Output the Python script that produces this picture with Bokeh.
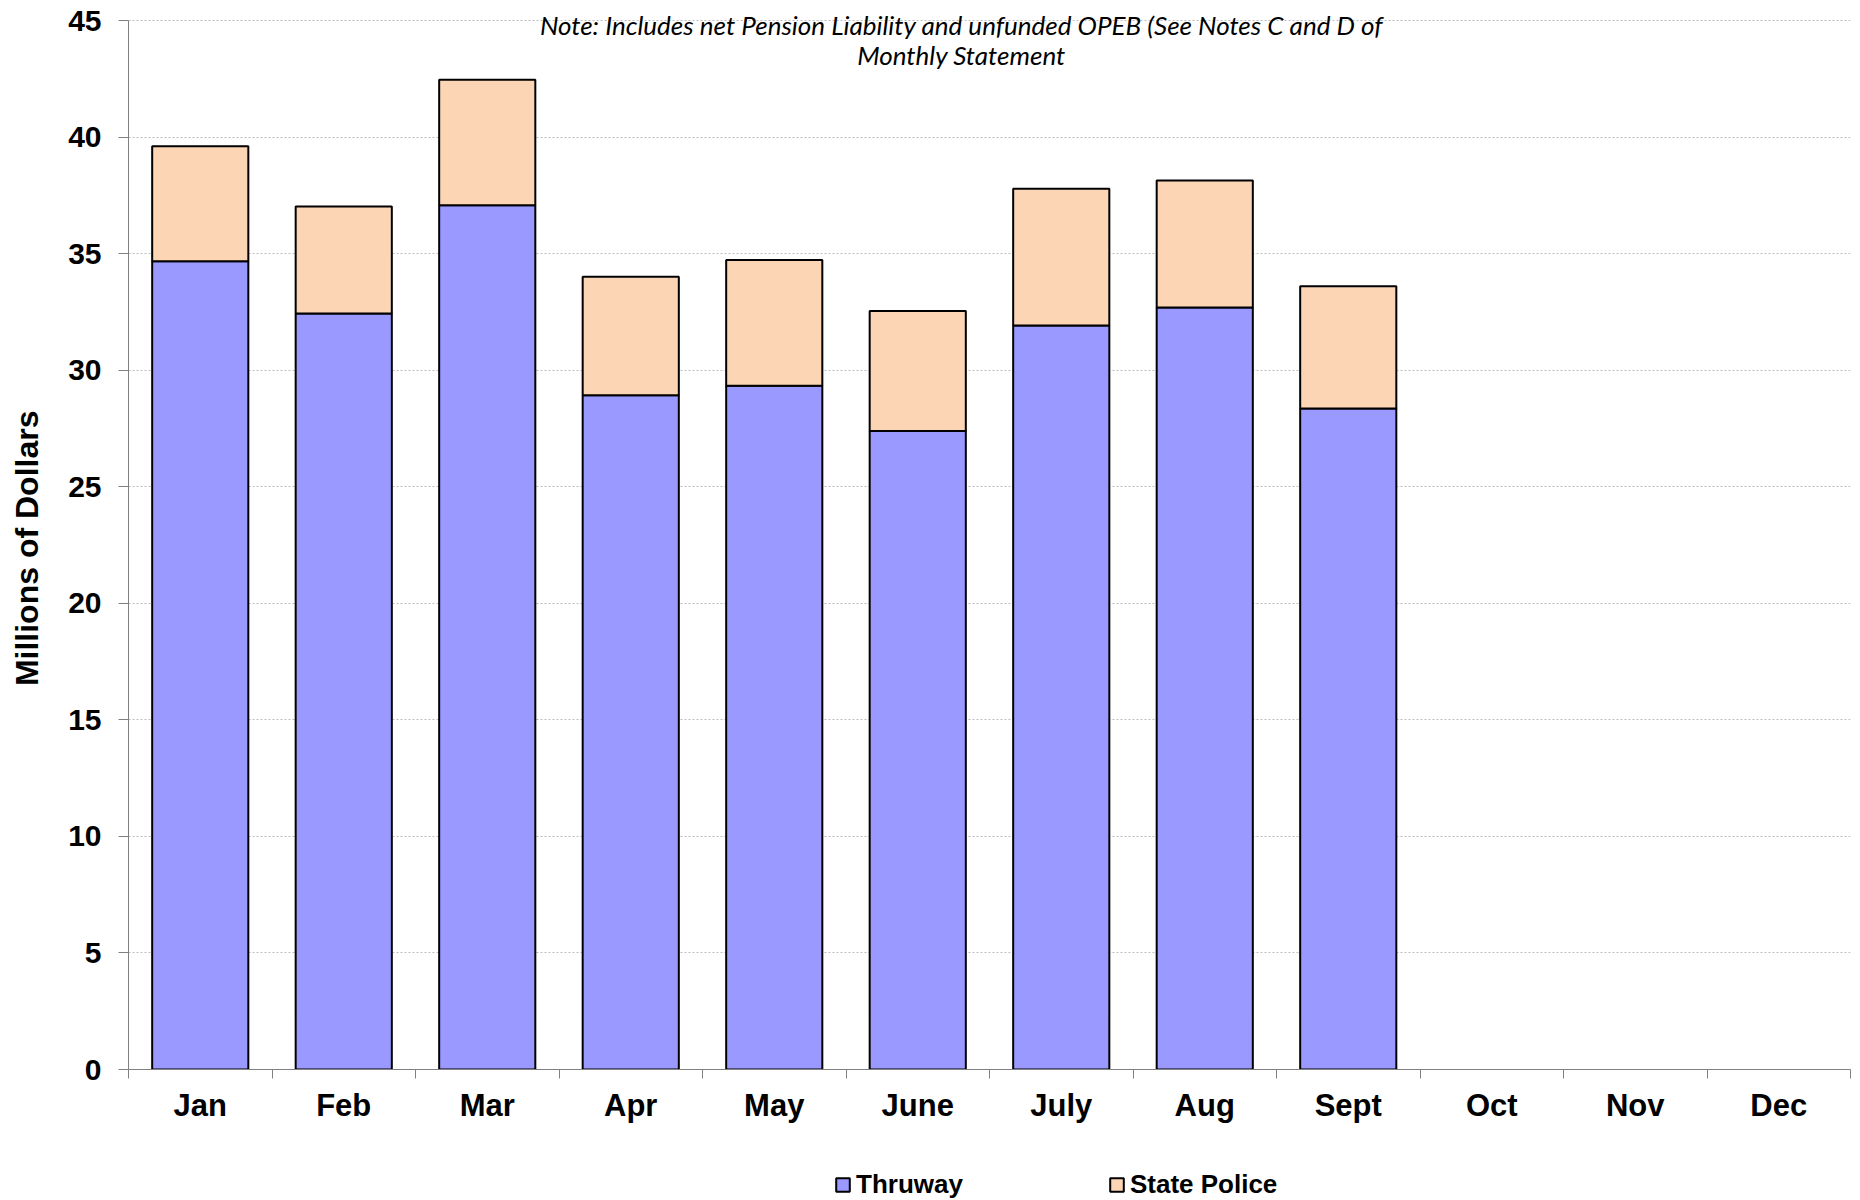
from bokeh.plotting import figure
from bokeh.layouts import column
from bokeh.models import ColumnDataSource, Range1d, FixedTicker, Label, Legend, LegendItem
from bokeh.embed import file_html
from bokeh.resources import INLINE

months = ["Jan", "Feb", "Mar", "Apr", "May", "June", "July", "Aug", "Sept", "Oct", "Nov", "Dec"]
thruway = [34.67, 32.43, 37.07, 28.92, 29.33, 27.39, 31.92, 32.69, 28.36]
state_police = [4.94, 4.59, 5.39, 5.09, 5.40, 5.15, 5.86, 5.45, 5.24]
series_names = ["Thruway", "State Police"]
y_ticks = list(range(0, 50, 5))
y_title = "Millions of Dollars"
note_lines = ["Note: Includes net Pension Liability and unfunded OPEB (See Notes C and D of",
              "Monthly Statement"]

colors = ["#9999FF", "#FCD5B5"]
FONT = "Liberation Sans"

W = 1860
H_MAIN, H_LEG = 1140, 60
BL, BR = 128, 10
X_AXIS_Y = 1069          # screen row of the zero line
TOP_GAP = 20             # screen gap between the 45 line and the top
BB = H_MAIN - X_AXIS_Y
Y_MAX = max(y_ticks)
y_end = Y_MAX * X_AXIS_Y / (X_AXIS_Y - TOP_GAP)   # leave room above the top grid line

n = len(thruway)
centers = [i + 0.5 for i in range(len(months))]
source = ColumnDataSource(dict(x=centers[:n], thruway=thruway, police=state_police))

p = figure(width=W, height=H_MAIN, output_backend="svg", toolbar_location=None,
           x_range=Range1d(0, len(months)), y_range=Range1d(0, y_end),
           min_border_left=BL, min_border_right=BR, min_border_top=0, min_border_bottom=BB)
p.outline_line_color = None
p.background_fill_color = "white"

p.vbar_stack(["thruway", "police"], x="x", width=0.67, source=source,
             fill_color=colors, line_color="black", line_width=2)

# grid
p.xgrid.grid_line_color = None
p.ygrid.grid_line_color = "#BDBDBD"
p.ygrid.grid_line_dash = "2 2"
p.ygrid.grid_line_width = 1

# y axis
ya = p.yaxis[0]
ya.ticker = FixedTicker(ticks=y_ticks)
ya.bounds = (0, Y_MAX)
ya.axis_line_color = "#808080"
ya.major_tick_line_color = "#808080"
ya.major_tick_out = 10
ya.major_tick_in = 0
ya.minor_tick_line_color = None
ya.major_label_standoff = 17
ya.major_label_text_font = FONT
ya.major_label_text_font_style = "bold"
ya.major_label_text_font_size = "30px"
ya.major_label_text_color = "black"
# trailing no-break spaces keep the title centred on the 0-45 span of the axis
ya.axis_label = y_title + "\u00a0\u00a0\u00a0"
ya.axis_label_text_font = FONT
ya.axis_label_text_font_style = "bold"
ya.axis_label_text_font_size = "32px"
ya.axis_label_text_color = "black"
ya.axis_label_standoff = 20

# x axis: labels at centres, ticks at boundaries
xa = p.xaxis[0]
xa.ticker = FixedTicker(ticks=centers, minor_ticks=list(range(len(months) + 1)))
xa.major_label_overrides = {c: m for c, m in zip(centers, months)}
xa.axis_line_color = "#808080"
xa.major_tick_line_color = None
xa.major_tick_out = 0
xa.major_tick_in = 0
xa.minor_tick_line_color = "#808080"
xa.minor_tick_out = 9
xa.minor_tick_in = 0
xa.major_label_standoff = 9
xa.major_label_text_font = FONT
xa.major_label_text_font_style = "bold"
xa.major_label_text_font_size = "31px"
xa.major_label_text_color = "black"

# note
for i, t in enumerate(note_lines):
    p.add_layout(Label(x=833, y=X_AXIS_Y - 24 - 30 * i, x_units="screen", y_units="screen",
                       text=t, text_font="Lato", text_font_style="italic",
                       text_font_size="26px", text_align="center", text_baseline="middle",
                       text_color="black"))

# legend strip below the chart (its own copies of the bars are hidden)
pl = figure(width=W, height=H_LEG, output_backend="svg", toolbar_location=None,
            x_range=Range1d(1000, 1001), y_range=Range1d(1000, 1001),
            x_axis_type=None, y_axis_type=None, min_border=0)
pl.outline_line_color = None
pl.xgrid.visible = False
pl.ygrid.visible = False
lrs = pl.vbar_stack(["thruway", "police"], x="x", width=0.67, source=source,
                    fill_color=colors, line_color="black", line_width=2)
for r in lrs:
    r.visible = False
items = [LegendItem(label=name, renderers=[r]) for name, r in zip(series_names, lrs)]
lg = Legend(items=items, orientation="horizontal", location=(834 - BL, 0))
lg.padding = 0
lg.margin = 0
lg.spacing = 145
lg.glyph_width = 17
lg.glyph_height = 17
lg.label_standoff = 5
lg.label_text_font = FONT
lg.label_text_font_style = "bold"
lg.label_text_font_size = "26px"
lg.label_text_color = "black"
lg.border_line_color = None
lg.background_fill_alpha = 0
lg.inactive_fill_alpha = 0
pl.add_layout(lg, "center")

layout = column(p, pl, spacing=0)
open("out.html", "w").write(file_html(layout, INLINE))
